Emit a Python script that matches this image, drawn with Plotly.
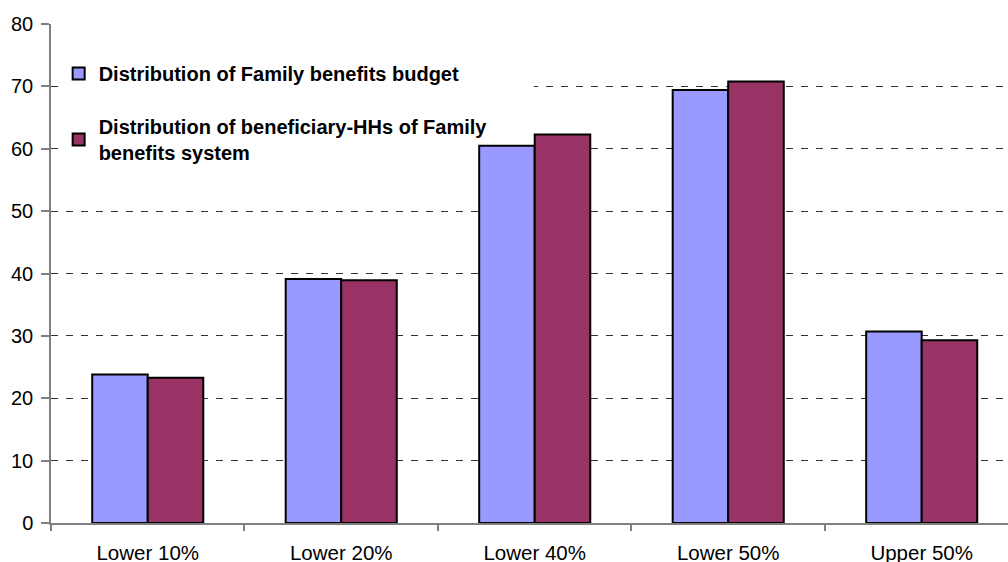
import plotly.graph_objects as go

categories = ["Lower 10%", "Lower 20%", "Lower 40%", "Lower 50%", "Upper 50%"]
budget = [23.8, 39.1, 60.5, 69.4, 30.7]
beneficiaries = [23.3, 38.9, 62.3, 70.8, 29.3]
series_names = [
    "Distribution of Family benefits budget",
    "Distribution of beneficiary-HHs of Family<br>benefits system",
]
y_ticks = [0, 10, 20, 30, 40, 50, 60, 70, 80]

FONT = "Liberation Sans, Arial, sans-serif"

fig = go.Figure()
fig.add_trace(go.Bar(
    x=categories, y=budget, name=series_names[0], legendgroup="a",
    marker=dict(color="#9999FF", line=dict(color="black", width=2)),
))
fig.add_trace(go.Bar(
    x=categories, y=beneficiaries, name=series_names[1], legendgroup="b",
    marker=dict(color="#993366", line=dict(color="black", width=2)),
))

# white legend backdrop drawn between gridlines and bars
fig.add_shape(type="rect", xref="x", yref="y",
              x0=-0.443, x1=1.996, y0=56.6, y1=76.6,
              fillcolor="white", line=dict(width=0), layer="between")

fig.update_layout(
    width=1008, height=562,
    margin=dict(l=51, r=0, t=24, b=39),
    paper_bgcolor="white", plot_bgcolor="white",
    barmode="group", bargap=0.426, bargroupgap=0,
    font=dict(family=FONT, size=20, color="black"),
    showlegend=True,
    legend=dict(
        x=0.008, y=0.94, xanchor="left", yanchor="top",
        bgcolor="rgba(0,0,0,0)", borderwidth=0,
        font=dict(family=FONT, size=20, color="black", weight="bold"),
        tracegroupgap=24, traceorder="grouped",
    ),
    xaxis=dict(
        type="category", range=[-0.5, 4.446], automargin=False,
        showline=True, linecolor="#808080", linewidth=1.5,
        ticks="outside", ticklen=6, tickcolor="#808080", tickwidth=1.5,
        tickson="boundaries", showgrid=False, ticklabelstandoff=11,
        tickfont=dict(family=FONT, size=20.5, color="black"),
    ),
    yaxis=dict(
        range=[0, 80], tickvals=y_ticks, ticktext=[str(v) for v in y_ticks],
        showline=True, linecolor="#808080", linewidth=1.5, automargin=False,
        ticks="outside", ticklen=8, tickcolor="#808080", tickwidth=1.5,
        showgrid=True, gridcolor="#333333", gridwidth=1, griddash="7px,8px",
        zeroline=False, ticklabelstandoff=4,
        tickfont=dict(family=FONT, size=20, color="black"),
    ),
)

fig.write_html("out.html", config={"displayModeBar": False},
               post_script="document.body.style.margin='0';")
